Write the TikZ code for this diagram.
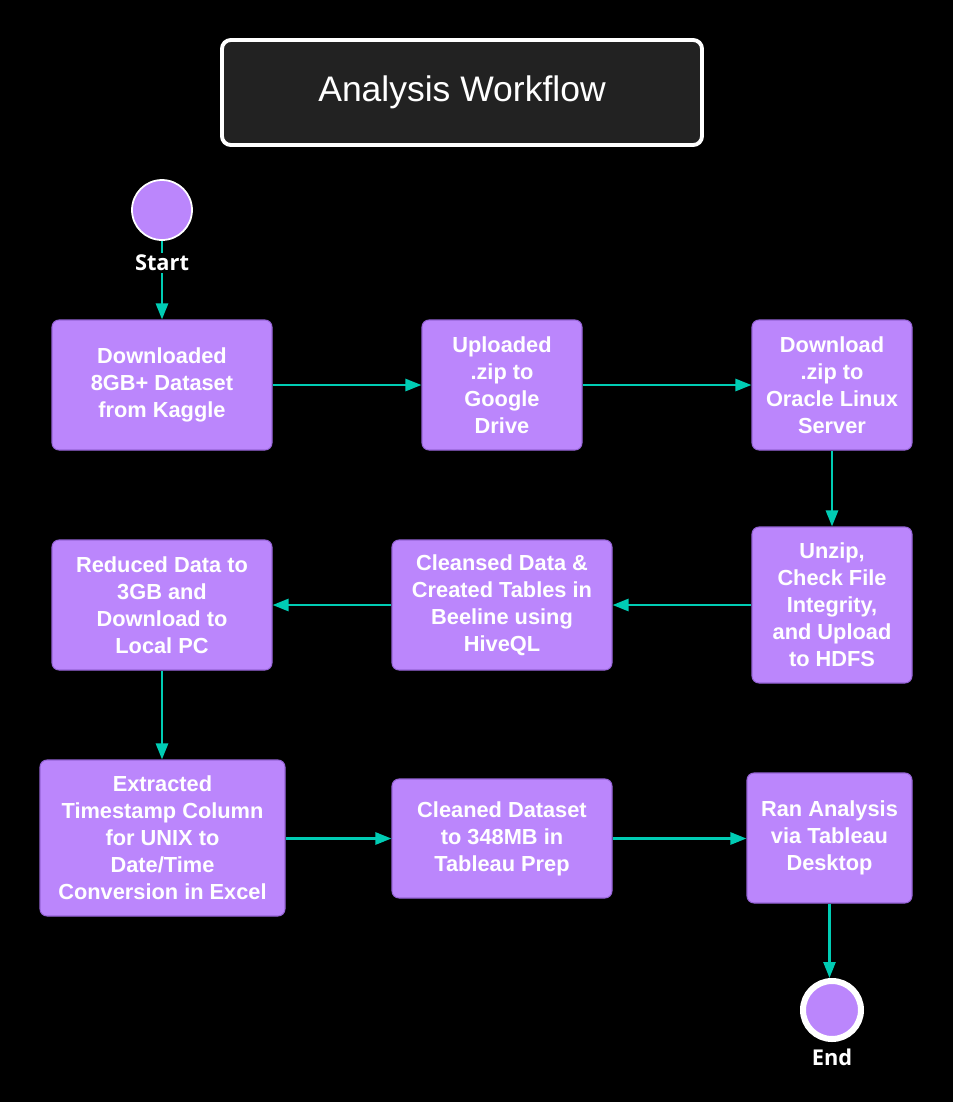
\documentclass[tikz,border=0pt]{standalone}
\usepackage{fontspec}
\setmainfont{Liberation Sans}
\newfontfamily\labelfont{Open Sans}
\usetikzlibrary{arrows.meta}

\definecolor{stepfill}{RGB}{187,134,252}
\definecolor{stepline}{RGB}{150,100,215}
\definecolor{flowteal}{RGB}{0,204,180}
\definecolor{titlefill}{RGB}{34,34,34}

\begin{document}
\begin{tikzpicture}[
    stepbox/.style={draw=stepline, line width=0.6pt, fill=stepfill, rounded corners=4pt,
        align=center, text=white, font=\fontsize{12.4}{15.4}\selectfont\bfseries, inner sep=2pt},
    terminal/.style={circle, fill=stepfill, draw=white},
    termlabel/.style={text=white, font=\labelfont\fontsize{12.4}{14}\selectfont\bfseries, inner sep=1pt},
    flow/.style={draw=flowteal, line width=1.5pt, -{Triangle[length=0.32cm,width=0.24cm]}},
    flowline/.style={draw=flowteal, line width=1.5pt}
]
    % Background and frame
    \fill[black] (0,0) rectangle (19.06,-22.04);
    \useasboundingbox (0,0) rectangle (19.06,-22.04);

    % Title
    \node[draw=white, line width=2.2pt, fill=titlefill, rounded corners=5pt,
        minimum width=9.6cm, minimum height=2.1cm, text=white,
        font=\fontsize{20.2}{24}\selectfont] (title) at (9.24,-1.85) {Analysis Workflow};

    % Start and end
    \node[terminal, line width=1pt, minimum size=1.2cm] (start) at (3.24,-4.2) {};
    \node[termlabel] (startlbl) at (3.24,-5.26) {Start};
    \node[terminal, line width=0.12cm, minimum size=1.16cm] (end) at (16.64,-20.2) {};
    \node[termlabel] (endlbl) at (16.64,-21.14) {End};

    % Steps
    \node[stepbox, minimum width=4.4cm, minimum height=2.6cm] (download) at (3.24,-7.7)
        {Downloaded\\8GB+ Dataset\\from Kaggle};
    \node[stepbox, minimum width=3.2cm, minimum height=2.6cm] (upload) at (10.04,-7.7)
        {Uploaded\\.zip to\\Google\\Drive};
    \node[stepbox, minimum width=3.2cm, minimum height=2.6cm] (server) at (16.64,-7.7)
        {Download\\.zip to\\Oracle Linux\\Server};
    \node[stepbox, minimum width=3.2cm, minimum height=3.12cm] (hdfs) at (16.64,-12.1)
        {Unzip,\\Check File\\Integrity,\\and Upload\\to HDFS};
    \node[stepbox, minimum width=4.4cm, minimum height=2.6cm] (hive) at (10.04,-12.1)
        {Cleansed Data \&\\Created Tables in\\Beeline using\\HiveQL};
    \node[stepbox, minimum width=4.4cm, minimum height=2.6cm] (reduce) at (3.24,-12.1)
        {Reduced Data to\\3GB and\\Download to\\Local PC};
    \node[stepbox, minimum width=4.9cm, minimum height=3.12cm] (excel) at (3.25,-16.76)
        {Extracted\\Timestamp Column\\for UNIX to\\Date/Time\\Conversion in Excel};
    \node[stepbox, minimum width=4.4cm, minimum height=2.38cm] (prep) at (10.04,-16.77)
        {Cleaned Dataset\\to 348MB in\\Tableau Prep};
    \node[stepbox, minimum width=3.3cm, minimum height=2.6cm] (tableau) at (16.59,-16.76)
        {Ran Analysis\\via Tableau\\Desktop};

    % Connectors
    \draw[flowline] (start) -- (startlbl);
    \draw[flow] (startlbl) -- (download);
    \draw[flow] (download) -- (upload);
    \draw[flow] (upload) -- (server);
    \draw[flow] (server) -- (hdfs);
    \draw[flow] (hdfs) -- (hive);
    \draw[flow] (hive) -- (reduce);
    \draw[flow] (reduce) -- (excel.north -| reduce);
    \draw[flow] (excel.east |- prep) -- (prep);
    \draw[flow] (prep) -- (prep -| tableau.west);
    \draw[flow] (tableau) -- (tableau.south |- end.north);
\end{tikzpicture}
\end{document}
